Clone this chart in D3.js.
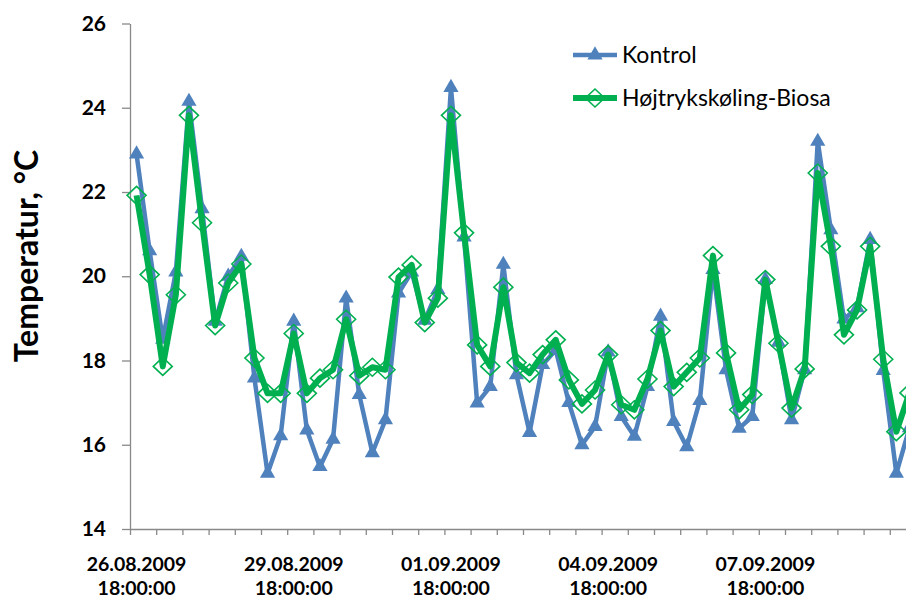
<!DOCTYPE html>
<html>
<head>
<meta charset="utf-8">
<script src="https://cdn.jsdelivr.net/npm/d3@7"></script>
<style>
  body { margin: 0; background: #fff; }
  svg { display: block; font-family: Lato, "Open Sans", sans-serif; }
</style>
</head>
<body>
<svg id="chart" width="906" height="599"></svg>
<script>
// readings every 6 hours starting 26.08.2009 18:00
const start = new Date(2009, 7, 26, 18, 0, 0);
const stepHours = 6;

const kontrol = [
  22.9, 20.6, 18.5, 20.1, 24.15, 21.6, 18.93, 20.0, 20.47, 17.58,
  15.32, 16.21, 18.93, 16.35, 15.48, 16.13, 19.48, 17.19, 15.81, 16.59,
  19.6, 20.1, 18.95, 19.68, 24.48, 20.93, 16.99, 17.38, 20.28, 17.66,
  16.29, 17.9, 18.25, 17.0, 16.0, 16.43, 18.2, 16.67, 16.2, 17.38,
  19.05, 16.55, 15.95, 17.05, 20.16, 17.78, 16.39, 16.67, 19.92, 18.43,
  16.59, 17.78, 23.2, 21.1, 18.98, 19.25, 20.87, 17.76, 15.32, 16.4
];

const hoejtryk = [
  21.92, 20.04, 17.86, 19.56, 23.82, 21.27, 18.83, 19.84, 20.29, 18.06,
  17.22, 17.22, 18.64, 17.22, 17.58, 17.78, 18.98, 17.64, 17.84, 17.78,
  19.98, 20.27, 18.9, 19.48, 23.82, 21.03, 18.37, 17.86, 19.74, 17.95,
  17.7, 18.14, 18.49, 17.54, 16.97, 17.3, 18.14, 16.95, 16.83, 17.56,
  18.71, 17.38, 17.72, 18.06, 20.49, 18.18, 16.83, 17.19, 19.92, 18.41,
  16.87, 17.8, 22.45, 20.71, 18.61, 19.2, 20.71, 18.03, 16.31, 17.23
];

const yTicks = [14, 16, 18, 20, 22, 24, 26];
const labelEvery = 12;   // one label per 3 days
const tickEvery = 2;     // tick mark per 2 categories

const categories = kontrol.map((d, i) => d3.timeHour.offset(start, i * stepHours));
const fmtDate = d3.timeFormat('%d.%m.%Y');
const fmtTime = d3.timeFormat('%H:%M:%S');

const series = [
  {name: 'Kontrol', values: kontrol, color: '#4f81bd', width: 4.5, marker: 'triangle'},
  {name: 'Højtrykskøling-Biosa', values: hoejtryk, color: '#00b050', width: 6, marker: 'diamond'}
];

const svg = d3.select('#chart');
const plotLeft = 130, plotTop = 23.5, plotBottom = 529;
const catW = 13.1;
const axisColor = '#898989';

const x = d3.scaleBand()
  .domain(d3.range(categories.length))
  .range([plotLeft, plotLeft + catW * categories.length]);

const xb = d3.scaleLinear()
  .domain([0, categories.length])
  .range([plotLeft, plotLeft + catW * categories.length]);

const y = d3.scaleLinear().domain([14, 26]).range([plotBottom, plotTop]);

const cx = i => x(i) + x.bandwidth() / 2;

// y axis
const yAxis = svg.append('g')
  .attr('transform', `translate(${plotLeft},0)`)
  .call(d3.axisLeft(y).tickValues(yTicks).tickSize(8).tickSizeOuter(0).tickPadding(16));
yAxis.select('.domain').attr('stroke', axisColor).attr('stroke-width', 1.3);
yAxis.selectAll('.tick line').attr('stroke', axisColor).attr('stroke-width', 1.3);
yAxis.selectAll('.tick text')
  .attr('fill', '#000')
  .style('font-size', '21px')
  .style('font-weight', 'bold')
  .style('font-family', 'Lato, sans-serif');

// x axis
const xAxis = svg.append('g')
  .attr('transform', `translate(0,${plotBottom})`)
  .call(d3.axisBottom(xb).tickValues(d3.range(0, categories.length + 1, tickEvery)).tickFormat('').tickSize(6).tickSizeOuter(0));
xAxis.select('.domain').attr('stroke', axisColor).attr('stroke-width', 1.3);
xAxis.selectAll('.tick line').attr('stroke', axisColor).attr('stroke-width', 1.3);

const labelIdx = d3.range(0, categories.length, labelEvery);
const xl = svg.append('g')
  .selectAll('text')
  .data(labelIdx)
  .join('text')
  .attr('x', i => cx(i))
  .attr('text-anchor', 'middle')
  .style('font-size', '19.5px')
  .style('font-weight', 'bold');
xl.append('tspan').attr('x', i => cx(i)).attr('y', 571).text(i => fmtDate(categories[i]));
xl.append('tspan').attr('x', i => cx(i)).attr('y', 595).text(i => fmtTime(categories[i]));

// y title
svg.append('text')
  .attr('transform', 'translate(38,256) rotate(-90)')
  .attr('text-anchor', 'middle')
  .style('font-size', '32px')
  .style('font-weight', 'bold')
  .text('Temperatur, °C');

const tri = d3.symbol().type(d3.symbolTriangle).size(100)();
const diamond = 'M0,-9L9.5,0L0,9L-9.5,0Z';

function drawMarker(g, s) {
  if (s.marker === 'triangle') {
    g.append('path').attr('d', tri).attr('fill', s.color);
  } else {
    g.append('path').attr('d', diamond).attr('fill', 'none')
      .attr('stroke', s.color).attr('stroke-width', 1.6);
  }
}

const line = d3.line()
  .x((d, i) => cx(i))
  .y(d => y(d));

series.forEach(s => {
  const g = svg.append('g');
  g.append('path')
    .datum(s.values)
    .attr('d', line)
    .attr('fill', 'none')
    .attr('stroke', s.color)
    .attr('stroke-width', s.width)
    .attr('stroke-linejoin', 'round');
  g.selectAll('g.m')
    .data(s.values)
    .join('g')
    .attr('class', 'm')
    .attr('transform', (d, i) => `translate(${cx(i)},${y(d)})`)
    .each(function () { drawMarker(d3.select(this), s); });
});

// legend
const legend = svg.append('g');
series.forEach((s, k) => {
  const ly = 55 + k * 43;
  const lg = legend.append('g');
  lg.append('line')
    .attr('x1', 573).attr('x2', 617)
    .attr('y1', ly).attr('y2', ly)
    .attr('stroke', s.color)
    .attr('stroke-width', s.width);
  const mg = lg.append('g').attr('transform', `translate(595,${ly})`);
  drawMarker(mg, s);
  lg.append('text')
    .attr('x', 622)
    .attr('y', ly + 8)
    .style('font-size', '23px')
    .text(s.name);
});
</script>
</body>
</html>
